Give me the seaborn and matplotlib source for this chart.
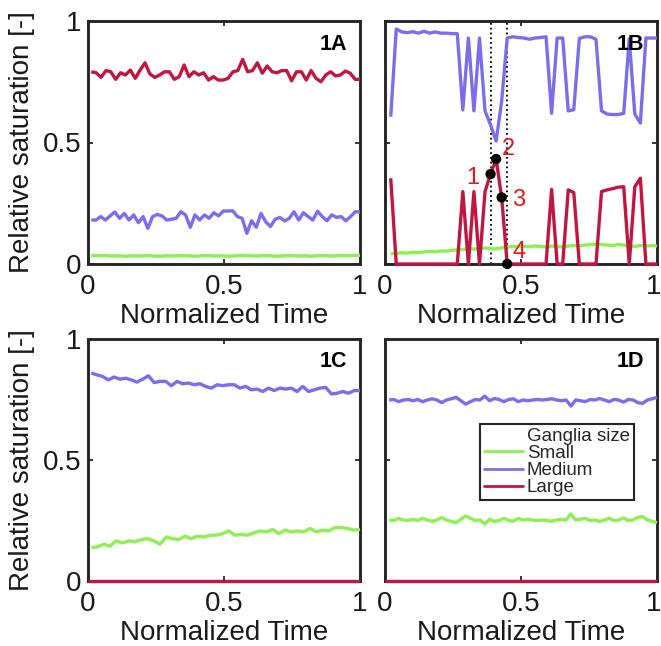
import numpy as np
import pandas as pd
import matplotlib
matplotlib.use("Agg")
import matplotlib.pyplot as plt
import matplotlib.transforms as mtransforms
import seaborn as sns
from matplotlib.lines import Line2D

# ---------------- data ----------------
sizes = ["Small", "Medium", "Large"]
palette = {"Small": "#8DF052", "Medium": "#7A6EEA", "Large": "#BF1740"}
panel_names = ["1A", "1B", "1C", "1D"]
x_ticks = [0, 0.5, 1]
x_tick_labels = ["0", "0.5", "1"]
y_ticks = [0, 0.5, 1]
y_tick_labels = ["0", "0.5", "1"]
legend_title = "Ganglia size"
marker_labels = ["1", "2", "3", "4"]
marker_index = [18, 19, 20, 21]

# Panel 1A
a_small = [0.035, 0.034, 0.035, 0.033, 0.034, 0.032, 0.034, 0.033, 0.035, 0.033,
           0.032, 0.034, 0.033, 0.035, 0.034, 0.032, 0.034, 0.035, 0.033, 0.034,
           0.032, 0.034, 0.036, 0.034, 0.033, 0.035, 0.034, 0.032, 0.034, 0.035,
           0.033, 0.034, 0.032, 0.035, 0.034, 0.033, 0.035, 0.034, 0.035, 0.036]
a_medium = [0.181, 0.181, 0.195, 0.181, 0.198, 0.214, 0.188, 0.208, 0.181, 0.202,
            0.170, 0.195, 0.147, 0.195, 0.204, 0.198, 0.181, 0.184, 0.188, 0.215,
            0.202, 0.151, 0.202, 0.181, 0.202, 0.188, 0.211, 0.198, 0.218, 0.218,
            0.219, 0.195, 0.188, 0.126, 0.178, 0.151, 0.208, 0.174, 0.154, 0.184,
            0.192, 0.177, 0.188, 0.215, 0.181, 0.211, 0.195, 0.181, 0.217, 0.195,
            0.178, 0.202, 0.192, 0.195, 0.178, 0.195, 0.215, 0.215]
a_large = [0.791, 0.787, 0.768, 0.796, 0.791, 0.760, 0.787, 0.778, 0.798, 0.764,
           0.798, 0.828, 0.782, 0.768, 0.778, 0.791, 0.791, 0.760, 0.771, 0.819,
           0.771, 0.791, 0.778, 0.787, 0.757, 0.771, 0.757, 0.757, 0.764, 0.791,
           0.796, 0.842, 0.791, 0.796, 0.828, 0.785, 0.815, 0.791, 0.787, 0.796,
           0.796, 0.754, 0.791, 0.791, 0.757, 0.796, 0.764, 0.750, 0.778, 0.791,
           0.774, 0.778, 0.794, 0.785, 0.760, 0.760]

# Panel 1B
b_small = [0.042, 0.044, 0.046, 0.045, 0.048, 0.047, 0.050, 0.052, 0.050, 0.054,
           0.053, 0.056, 0.058, 0.060, 0.063, 0.061, 0.064, 0.066, 0.063, 0.062,
           0.066, 0.070, 0.072, 0.070, 0.073, 0.071, 0.074, 0.072, 0.070, 0.074,
           0.072, 0.070, 0.074, 0.076, 0.074, 0.078, 0.080, 0.082, 0.080, 0.078,
           0.076, 0.080, 0.078, 0.074, 0.072, 0.076, 0.074, 0.076, 0.074]
b_medium = [0.606, 0.967, 0.955, 0.952, 0.956, 0.950, 0.958, 0.950, 0.955, 0.950,
            0.950, 0.948, 0.948, 0.634, 0.930, 0.630, 0.930, 0.630, 0.572, 0.506,
            0.670, 0.930, 0.935, 0.932, 0.930, 0.925, 0.930, 0.932, 0.935, 0.620,
            0.930, 0.930, 0.630, 0.635, 0.928, 0.935, 0.935, 0.925, 0.630, 0.617,
            0.615, 0.615, 0.620, 0.926, 0.617, 0.580, 0.930, 0.930, 0.930]
b_large = [0.353, 0.0, 0.0, 0.0, 0.0, 0.0, 0.0, 0.0, 0.0, 0.0,
           0.0, 0.0, 0.0, 0.298, 0.0, 0.298, 0.0, 0.298, 0.370, 0.432,
           0.274, 0.0, 0.0, 0.0, 0.0, 0.0, 0.0, 0.0, 0.0, 0.307,
           0.0, 0.0, 0.305, 0.294, 0.0, 0.0, 0.0, 0.0, 0.298, 0.305,
           0.310, 0.316, 0.318, 0.0, 0.318, 0.353, 0.0, 0.0, 0.0]

# Panel 1C
c_small = [0.138, 0.141, 0.152, 0.144, 0.166, 0.157, 0.166, 0.162, 0.171, 0.175,
           0.166, 0.152, 0.182, 0.175, 0.171, 0.185, 0.175, 0.185, 0.182, 0.189,
           0.189, 0.196, 0.207, 0.189, 0.193, 0.189, 0.199, 0.207, 0.203, 0.213,
           0.196, 0.210, 0.203, 0.207, 0.203, 0.217, 0.203, 0.210, 0.207, 0.221,
           0.221, 0.217, 0.210, 0.213]
c_medium = [0.859, 0.852, 0.845, 0.831, 0.843, 0.834, 0.838, 0.831, 0.822, 0.834,
            0.848, 0.820, 0.825, 0.825, 0.807, 0.825, 0.815, 0.818, 0.811, 0.815,
            0.804, 0.797, 0.811, 0.807, 0.811, 0.811, 0.797, 0.804, 0.790, 0.793,
            0.783, 0.797, 0.787, 0.797, 0.793, 0.797, 0.783, 0.804, 0.783, 0.790,
            0.797, 0.800, 0.773, 0.776, 0.783, 0.776, 0.787, 0.787]
c_large = [0.0, 0.0]

# Panel 1D
d_small = [0.252, 0.250, 0.259, 0.252, 0.250, 0.255, 0.250, 0.259, 0.252, 0.247,
           0.252, 0.263, 0.252, 0.247, 0.241, 0.255, 0.269, 0.259, 0.250, 0.252,
           0.236, 0.255, 0.246, 0.250, 0.259, 0.250, 0.247, 0.259, 0.252, 0.255,
           0.252, 0.250, 0.252, 0.250, 0.247, 0.252, 0.255, 0.252, 0.277, 0.252,
           0.255, 0.259, 0.250, 0.252, 0.246, 0.252, 0.259, 0.250, 0.252, 0.261,
           0.250, 0.252, 0.263, 0.266, 0.252, 0.247, 0.241]
d_medium = [0.748, 0.750, 0.741, 0.748, 0.750, 0.745, 0.750, 0.741, 0.748, 0.753,
            0.748, 0.737, 0.748, 0.753, 0.759, 0.745, 0.731, 0.741, 0.750, 0.748,
            0.764, 0.745, 0.754, 0.750, 0.741, 0.750, 0.753, 0.741, 0.748, 0.745,
            0.748, 0.750, 0.748, 0.750, 0.753, 0.748, 0.745, 0.748, 0.723, 0.748,
            0.745, 0.741, 0.750, 0.748, 0.754, 0.748, 0.741, 0.750, 0.748, 0.739,
            0.750, 0.748, 0.737, 0.734, 0.748, 0.753, 0.759]
d_large = [0.0, 0.0]

panels = {
    "1A": {"Small": a_small, "Medium": a_medium, "Large": a_large},
    "1B": {"Small": b_small, "Medium": b_medium, "Large": b_large},
    "1C": {"Small": c_small, "Medium": c_medium, "Large": c_large},
    "1D": {"Small": d_small, "Medium": d_medium, "Large": d_large},
}
# first sample time of each panel (series end at normalized time 1)
t_first = {"1A": 0.012, "1B": 0.021, "1C": 0.012, "1D": 0.015}


def panel_frame(name):
    parts = []
    for s in sizes:
        v = panels[name][s]
        start = 0.0 if len(v) == 2 else t_first[name]
        t = np.linspace(start, 1.0, len(v))
        parts.append(pd.DataFrame({"time": t, "sat": v, "size": s}))
    return pd.concat(parts, ignore_index=True)


# ---------------- style ----------------
sns.set_theme(style="white")
plt.rcParams["font.family"] = ["Liberation Sans", "DejaVu Sans"]
edge = "#262626"
txt = "#1a1a1a"
FS = 20

fig = plt.figure(figsize=(6.61, 6.46), dpi=100)
W, H = 661, 646
boxes = {
    "1A": (88, 21, 272, 243),
    "1B": (385, 21, 272, 243),
    "1C": (88, 339, 272, 242),
    "1D": (385, 339, 272, 242),
}

for name in panel_names:
    x0, y0, w, h = boxes[name]
    ax = fig.add_axes([x0 / W, 1 - (y0 + h) / H, w / W, h / H])
    df = panel_frame(name)
    sns.lineplot(data=df, x="time", y="sat", hue="size", hue_order=sizes,
                 palette=palette, estimator=None, sort=False, linewidth=2.4,
                 legend=False, ax=ax)
    for ln in ax.lines:
        ln.set_clip_on(False)
        ln.set_zorder(3)
        ln.set_solid_capstyle("butt")

    ax.set_xlim(0, 1)
    ax.set_ylim(0, 1)
    ax.set_xticks(x_ticks, x_tick_labels)
    ax.set_yticks(y_ticks, y_tick_labels)
    left_col = name in ("1A", "1C")
    ax.tick_params(axis="both", direction="in", length=3.5, width=1.3,
                   color=edge, labelsize=FS, labelcolor=txt,
                   top=True, right=True, bottom=True, left=True)
    ax.tick_params(axis="x", pad=7)
    ax.tick_params(axis="y", pad=5, labelleft=left_col)
    for sp in ax.spines.values():
        sp.set_linewidth(2.1)
        sp.set_color(edge)
        sp.set_zorder(2.5)
    ax.set_xlabel("Normalized Time", fontsize=FS, labelpad=2, color=txt)
    if left_col:
        ax.set_ylabel("Relative saturation [-]", fontsize=FS, labelpad=5,
                      color=txt)
    else:
        ax.set_ylabel("")
        # keep the last x tick label inside the figure edge
        last = ax.get_xticklabels()[-1]
        last.set_transform(last.get_transform() + mtransforms.ScaledTranslation(
            -3 / 100, 0, fig.dpi_scale_trans))
    ax.text(0.952, 0.905, name, transform=ax.transAxes, ha="right", va="center",
            fontsize=15.5, fontweight="bold", color="black", zorder=6)

    if name == "1B":
        tB = np.linspace(t_first["1B"], 1.0, len(b_large))
        ax.axvline(tB[marker_index[0]], color="black", ls=":", lw=1.3, zorder=1)
        ax.axvline(tB[marker_index[-1]], color="black", ls=":", lw=1.3, zorder=1)
        pts = pd.DataFrame({"time": tB[marker_index],
                            "sat": [b_large[i] for i in marker_index]})
        sns.scatterplot(data=pts, x="time", y="sat", color="black", s=55,
                        edgecolor="none", zorder=5, ax=ax, clip_on=False)
        offsets = [(-13, -2.5), (9, 7), (12.5, -2), (8.5, 9)]
        for lab, i, off in zip(marker_labels, marker_index, offsets):
            ax.annotate(lab, (tB[i], b_large[i]), xytext=off,
                        textcoords="offset points", ha="center", va="center",
                        fontsize=17, color="#E5161B", zorder=6)
        ax.set_xlabel("Normalized Time", fontsize=FS, labelpad=2, color=txt)
        ax.set_ylabel("")

    if name == "1D":
        handles = [Line2D([], [], color="none", lw=0, label=legend_title)]
        labels = [legend_title]
        for s in sizes:
            handles.append(Line2D([], [], color=palette[s], lw=2.0))
            labels.append(s)
        leg = ax.legend(handles, labels, loc="upper left",
                        bbox_to_anchor=(0.349, 0.649), fontsize=13.5,
                        frameon=True, fancybox=False, framealpha=1,
                        edgecolor=edge, handlelength=2.1, handletextpad=0.2,
                        labelspacing=0.0, borderpad=0.2, borderaxespad=0)
        leg.get_frame().set_linewidth(1.5)

fig.savefig("out.png", dpi=100)
